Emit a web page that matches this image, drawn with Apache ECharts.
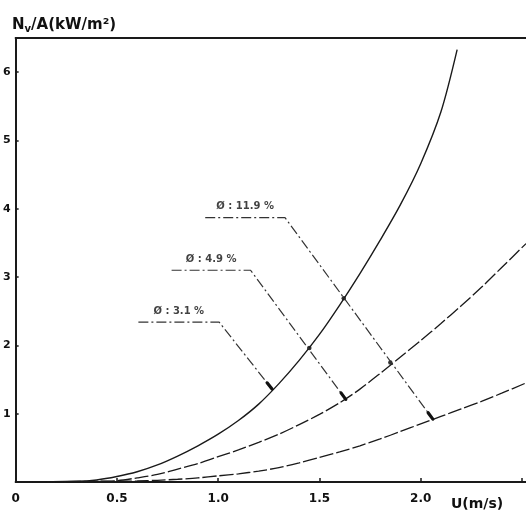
<!DOCTYPE html>
<html>
<head>
<meta charset="utf-8">
<script src="https://cdn.jsdelivr.net/npm/echarts@6/dist/echarts.min.js"></script>
<style>html,body{margin:0;padding:0;background:#fff}#c{width:526px;height:510px}</style>
</head>
<body>
<div id="c"></div>
<script>
// ---- data ----
const uTicks = [0, 0.5, 1.0, 1.5, 2.0];
const uTickLabels = ['0', '0.5', '1.0', '1.5', '2.0'];
const pTicks = [1, 2, 3, 4, 5, 6];
const pTickLabels = ['1', '2', '3', '4', '5', '6'];

const u1 = [0, 0.3, 0.4, 0.5, 0.6, 0.7, 0.8, 0.9, 1.0, 1.1, 1.2, 1.3, 1.4, 1.5, 1.6, 1.7, 1.8, 1.9, 2.0, 2.1, 2.18];
const p1 = [0, 0.01, 0.03, 0.08, 0.15, 0.25, 0.38, 0.53, 0.70, 0.90, 1.14, 1.44, 1.78, 2.16, 2.59, 3.05, 3.54, 4.06, 4.66, 5.42, 6.33];

const u2 = [0, 0.4, 0.5, 0.6, 0.7, 0.8, 0.9, 1.0, 1.1, 1.2, 1.3, 1.4, 1.5, 1.6, 1.7, 1.8, 1.9, 2.0, 2.1, 2.2, 2.3, 2.4, 2.52];
const p2 = [0, 0.01, 0.02, 0.06, 0.11, 0.19, 0.27, 0.37, 0.47, 0.58, 0.70, 0.84, 0.99, 1.16, 1.36, 1.59, 1.83, 2.07, 2.32, 2.58, 2.85, 3.14, 3.49];

const u3 = [0, 0.5, 0.6, 0.7, 0.8, 0.9, 1.0, 1.1, 1.2, 1.3, 1.4, 1.5, 1.6, 1.7, 1.8, 1.9, 2.0, 2.1, 2.2, 2.3, 2.4, 2.52];
const p3 = [0, 0.01, 0.015, 0.025, 0.04, 0.06, 0.09, 0.12, 0.16, 0.21, 0.28, 0.36, 0.44, 0.53, 0.63, 0.74, 0.85, 0.96, 1.07, 1.18, 1.30, 1.45];

// leader lines for the volume fractions (U, P)
const phiLabels = ['Ø : 3.1 %', 'Ø : 4.9 %', 'Ø : 11.9 %'];
const leaderU = [[0.606, 1.005, 1.266], [0.77, 1.16, 1.63], [0.936, 1.33, 2.06]];
const leaderP = [[2.34, 2.34, 1.36], [3.10, 3.10, 1.21], [3.87, 3.87, 0.92]];

// intersections of leader lines with the curves
const crossU = [1.45, 1.62, 1.85];
const crossP = [1.96, 2.69, 1.75];

// ---- layout ----
const W = 526, H = 510;
const GRID = {left: 14, top: 38, right: 0, bottom: 28};
const X_MAX = 2.52, Y_MAX = 6.5;
const pxU = (W - GRID.left - GRID.right) / X_MAX;
const pxP = (H - GRID.top - GRID.bottom) / Y_MAX;
const INK = '#1a1a1a';
const FONT = 'DejaVu Sans';

const zip = (a, b) => a.map((v, i) => [v, b[i]]);

function thickEnd(us, ps, px) {
  const n = us.length;
  const a = [us[n - 2], ps[n - 2]], b = [us[n - 1], ps[n - 1]];
  const len = Math.hypot((b[0] - a[0]) * pxU, (b[1] - a[1]) * pxP);
  const t = 1 - px / len;
  return [[a[0] + t * (b[0] - a[0]), a[1] + t * (b[1] - a[1])], b];
}

const series = [];
const curveStyle = [
  {width: 1.4, type: 'solid'},
  {width: 1.3, type: [14, 3]},
  {width: 1.3, type: [14, 3]}
];
[[u1, p1], [u2, p2], [u3, p3]].forEach((c, i) => {
  series.push({
    type: 'line', data: zip(c[0], c[1]), showSymbol: false, smooth: 0.3,
    lineStyle: {color: INK, width: curveStyle[i].width, type: curveStyle[i].type},
    silent: true
  });
});

leaderU.forEach((us, i) => {
  const ps = leaderP[i];
  series.push({
    type: 'line', data: zip(us, ps), showSymbol: false,
    lineStyle: {color: '#333', width: 1.2, type: [10, 3, 2, 3]}, silent: true
  });
  series.push({
    type: 'line', data: thickEnd(us, ps, 8), showSymbol: false,
    lineStyle: {color: '#111', width: 3.2, cap: 'round'}, silent: true
  });
  series.push({
    type: 'scatter', symbolSize: 0,
    data: [[(us[0] + us[1]) / 2, ps[0]]],
    label: {
      show: true, position: 'top', distance: 6, formatter: phiLabels[i],
      color: '#111', fontFamily: FONT, fontWeight: 'bold', fontSize: 10
    },
    silent: true
  });
});

series.push({
  type: 'scatter', data: zip(crossU, crossP), symbolSize: 4.5,
  itemStyle: {color: '#000'}, silent: true
});

const labelOf = (ticks, labels) => v => {
  for (let i = 0; i < ticks.length; i++) if (Math.abs(ticks[i] - v) < 1e-6) return labels[i];
  return '';
};

const chart = echarts.init(document.getElementById('c'), null, {renderer: 'canvas'});
chart.setOption({
  animation: false,
  backgroundColor: '#fff',
  title: [
    {
      text: '{n|N}{s|v}{n|/A(kW/m²)}', left: 7, top: 11,
      textStyle: {
        rich: {
          n: {fontFamily: FONT, fontWeight: 'bold', fontSize: 15, color: '#111'},
          s: {fontFamily: FONT, fontWeight: 'bold', fontSize: 10, color: '#111', padding: [8, 0, 0, 0]}
        }
      }
    },
    {
      text: 'U(m/s)', left: 446, top: 492,
      textStyle: {fontFamily: FONT, fontWeight: 'bold', fontSize: 14, color: '#111'}
    }
  ],
  grid: Object.assign({containLabel: false}, GRID),
  xAxis: [
    {
      type: 'value', min: 0, max: X_MAX, interval: 0.5,
      axisLine: {lineStyle: {color: INK, width: 2}},
      axisTick: {show: true, inside: true, length: 4, lineStyle: {color: INK, width: 1.5}},
      axisLabel: {
        formatter: labelOf(uTicks, uTickLabels), margin: 11,
        color: '#111', fontFamily: FONT, fontWeight: 'bold', fontSize: 12,
        showMaxLabel: false
      },
      splitLine: {show: false}
    },
    {
      type: 'value', min: 0, max: X_MAX, position: 'top',
      axisLine: {show: true, lineStyle: {color: INK, width: 2}},
      axisTick: {show: false}, axisLabel: {show: false}, splitLine: {show: false}
    }
  ],
  yAxis: {
    type: 'value', min: 0, max: Y_MAX, interval: 1,
    axisLine: {show: true, lineStyle: {color: INK, width: 2}},
    axisTick: {show: true, inside: true, length: 3, lineStyle: {color: INK, width: 1.5}},
    axisLabel: {
      formatter: labelOf(pTicks, pTickLabels), margin: 5,
      color: '#111', fontFamily: FONT, fontWeight: 'bold', fontSize: 11
    },
    splitLine: {show: false}
  },
  series: series
});
</script>
</body>
</html>
